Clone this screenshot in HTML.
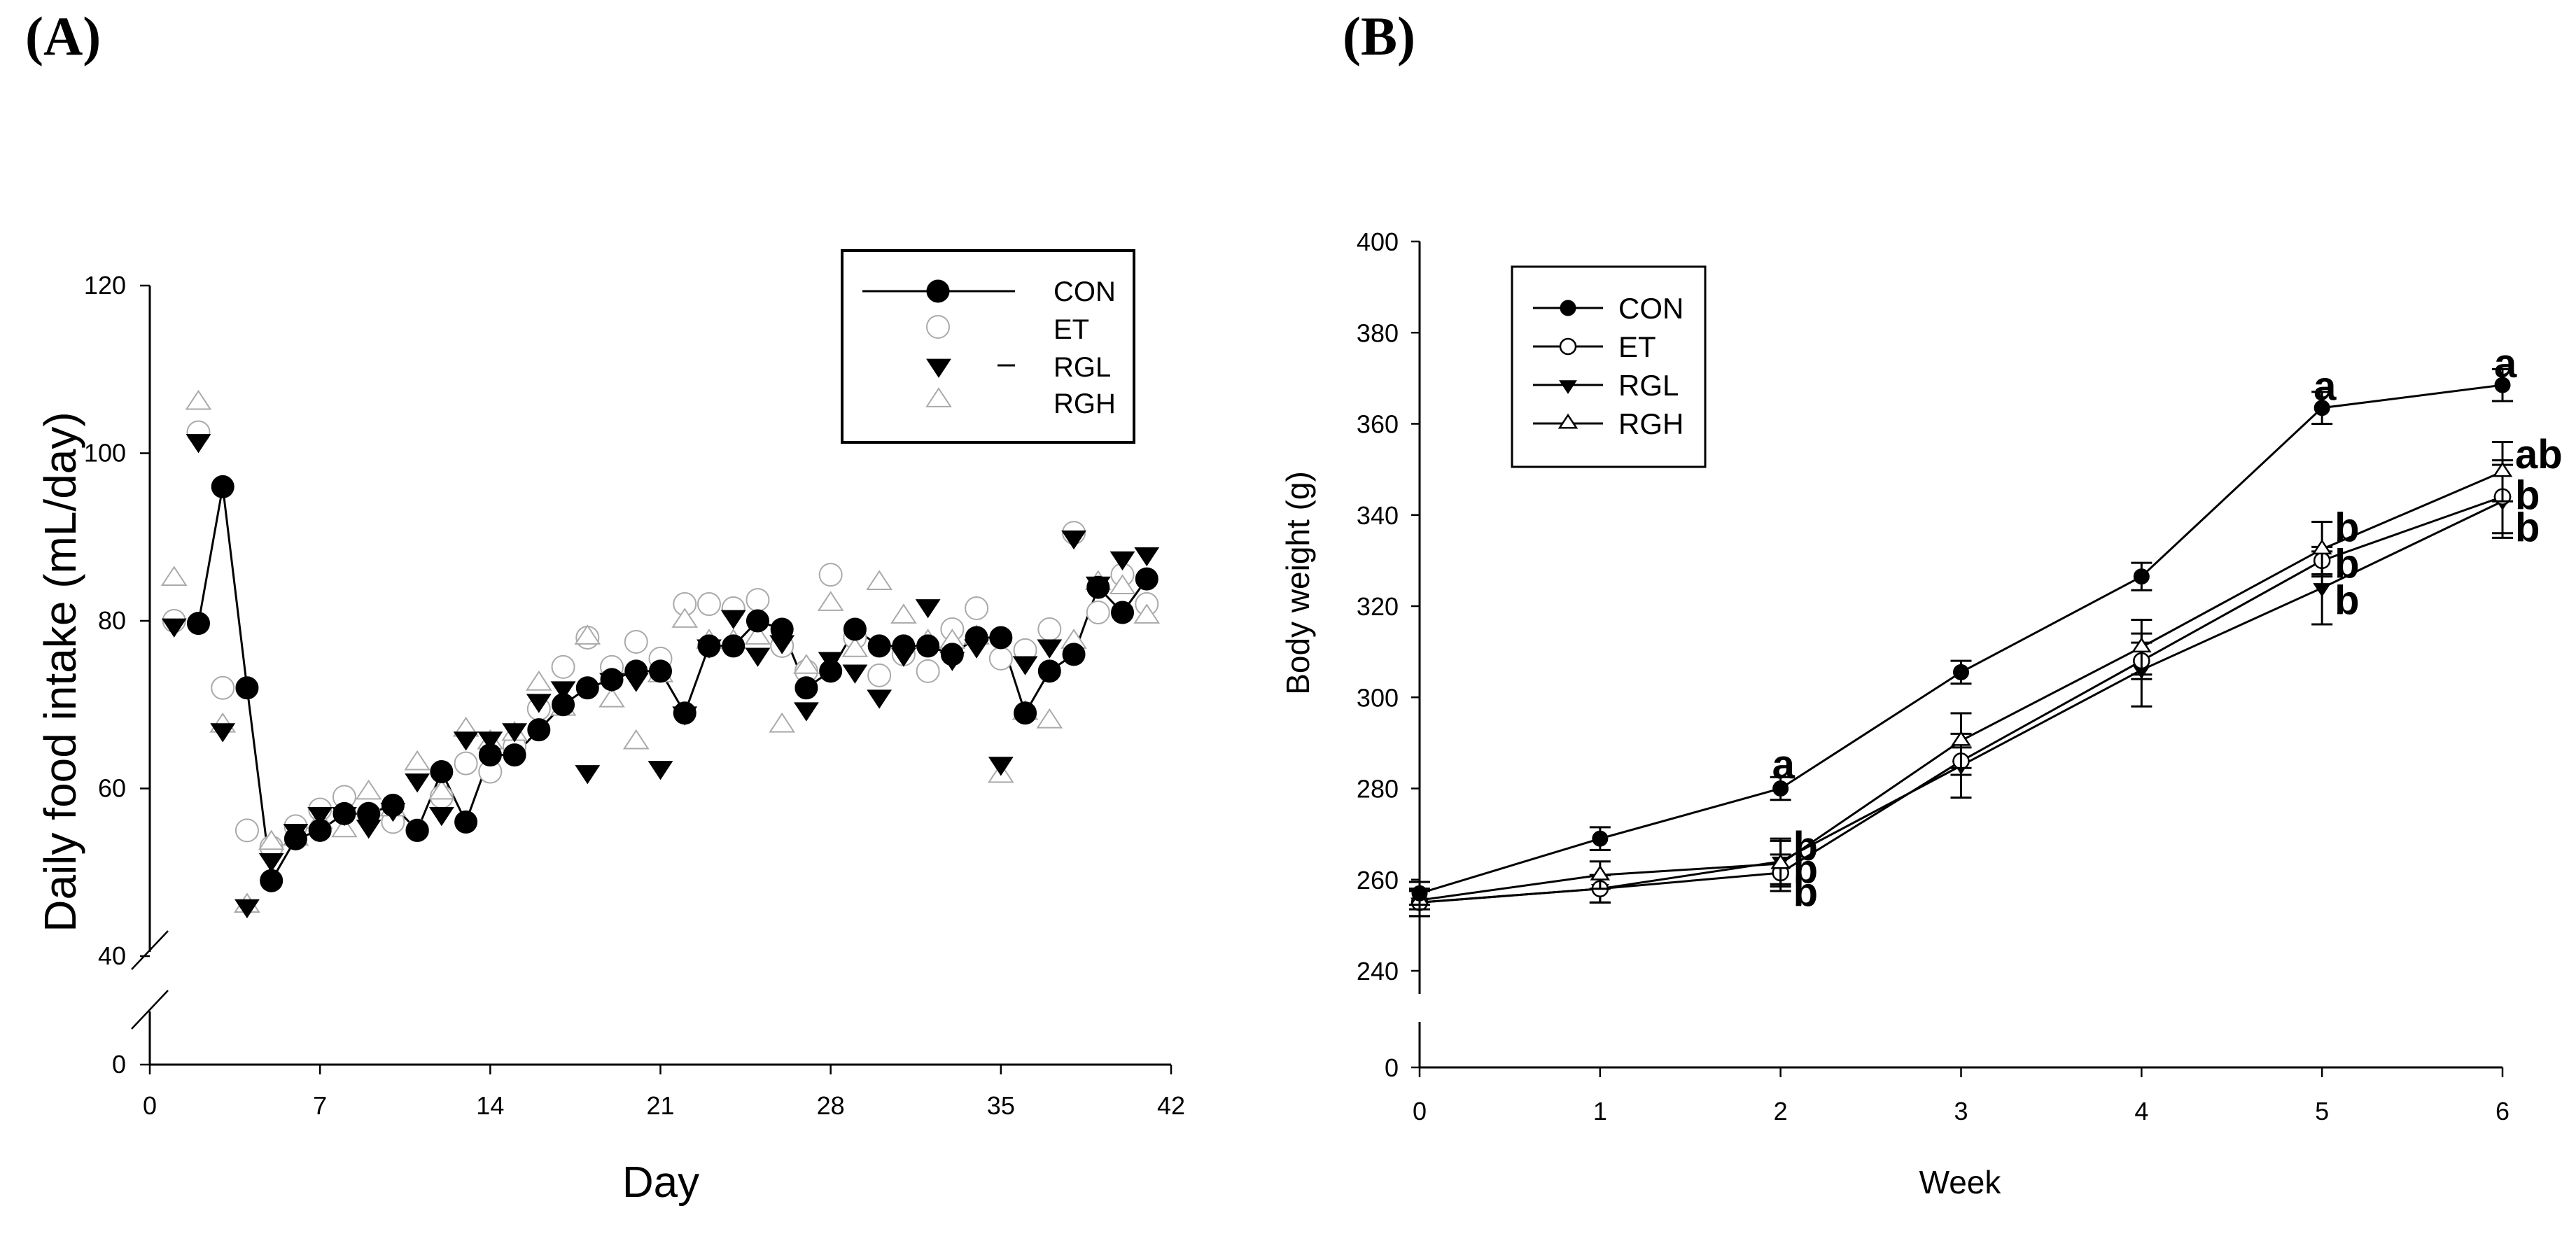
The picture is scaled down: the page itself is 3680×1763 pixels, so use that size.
<!DOCTYPE html>
<html><head><meta charset="utf-8"><style>
html,body{margin:0;padding:0;background:#fff;}
svg{display:block;}
text{font-family:"Liberation Sans Narrow","Liberation Sans",sans-serif;}
.tk{font-size:36px;}
</style></head>
<body>
<svg id="fig" width="3680" height="1763" viewBox="0 0 3680 1763" xmlns="http://www.w3.org/2000/svg">
<text x="36" y="78" font-family="Liberation Serif" font-weight="bold" font-size="78" style="font-family:'Liberation Serif',serif">(A)</text>
<text x="1918" y="78" font-weight="bold" font-size="78" style="font-family:'Liberation Serif',serif">(B)</text>
<g id="pa"></g>
<g id="pb"></g>
</svg>
<script>
// ---- Panel A data ----
const daysA = [1,2,3,4,5,6,7,8,9,10,11,12,13,14,15,16,17,18,19,20,21,22,23,24,25,26,27,28,29,30,31,32,33,34,35,36,37,38,39,40,41];
const conA = [null,79.7,96,72,49,54,55,57,57,58,55,62,56,64,64,67,70,72,73,74,74,69,77,77,80,79,72,74,79,77,77,77,76,78,78,69,74,76,84,81,85];
const etA = [80,102.5,72,55,53,55.5,57.5,59,57,56,55,59,63,62,65,69.5,74.5,78,74.5,77.5,75.5,82,82,81.5,82.5,77,74,85.5,78,73.5,76,74,79,81.5,75.5,76.5,79,90.5,81,85.5,82];
const rglA = [79.5,101.5,67,46,51.5,55,57,57,55.5,57.5,61,57,66,66,67,70.5,72,62,73,73,62.5,69,77,80.5,76,77.5,69.5,75.5,74,71,76,81.8,75.5,77,63,75,77,90,84.5,87.5,88];
const rghA = [85,106,67.5,46,53.5,54,56,55,59.5,57.5,63,59.5,67,65.5,66.5,72.5,69.5,78,70.5,65.5,73.5,80,77.5,77.5,78,67.5,74.5,82,76.5,84.5,80.5,77.5,77.5,78,61.5,69,68,77.5,84.5,84,80.5];
const xTicksA = [0,7,14,21,28,35,42];
const yTicksA = [40,60,80,100,120];
// ---- Panel B data ----
const weeksB = [0,1,2,3,4,5,6];
const conB = [257,269,280,305.5,326.5,363.5,368.5];
const conErr = [2.5,2.5,2.5,2.5,3,3.5,3.5];
const etB = [255,258,261.5,286,308,330,344];
const etErr = [3,3,4,3,4,3,8];
const rglB = [255,258,264,285,306,324,343];
const rglErr = [3,3,5,7,8,8,8];
const rghB = [255.5,261,263.5,290.5,311,332.5,349.5];
const rghErr = [2,3,5,6,6,6,6.5];
const yTicksB = [240,260,280,300,320,340,360,380,400];
const letterText = ['a','b','b','b','a','b','b','b','a','ab','b','b'];
const letterWeek = [2,2,2,2,5,5,5,5,6,6,6,6];
const letterVal = [285,267,262,257,368,337,329,321,373,353,344,337];

const NS='http://www.w3.org/2000/svg';
function mk(parent,tag,attrs,txt){const e=document.createElementNS(NS,tag);for(const k in attrs)e.setAttribute(k,attrs[k]);if(txt!==undefined)e.textContent=txt;parent.appendChild(e);return e;}

// ---------- Panel A ----------
const pa=document.getElementById('pa');
const xA=d=>214+(d/42)*(1673-214);
const yA=v=>v===0?1521:1366-(v-40)*(1366-408)/80;
let e;
e=mk(pa,'line',{x1:214,y1:408,x2:214,y2:1360,stroke:'#000','stroke-width':3});

e=mk(pa,'line',{x1:214,y1:1445,x2:214,y2:1521,stroke:'#000','stroke-width':3});

mk(pa,'line',{x1:188,y1:1385,x2:240,y2:1330,stroke:'#000','stroke-width':2.5});
mk(pa,'line',{x1:188,y1:1470,x2:240,y2:1415,stroke:'#000','stroke-width':2.5});
e=mk(pa,'line',{x1:214,y1:1521,x2:1673,y2:1521,stroke:'#000','stroke-width':3});

yTicksA.forEach(v=>{mk(pa,'line',{x1:200,y1:yA(v),x2:214,y2:yA(v),stroke:'#000','stroke-width':2.5});
 e=mk(pa,'text',{x:180,y:yA(v)+12,'text-anchor':'end',class:'tk'},v);});
mk(pa,'line',{x1:200,y1:1521,x2:214,y2:1521,stroke:'#000','stroke-width':2.5});
e=mk(pa,'text',{x:180,y:1533,'text-anchor':'end',class:'tk'},0);
xTicksA.forEach(d=>{mk(pa,'line',{x1:xA(d),y1:1521,x2:xA(d),y2:1535,stroke:'#000','stroke-width':2.5});
 e=mk(pa,'text',{x:xA(d),y:1592,'text-anchor':'middle',class:'tk'},d);});
e=mk(pa,'text',{x:0,y:0,'text-anchor':'middle','font-size':64,transform:'translate(108,960) rotate(-90)'},'Daily food intake (mL/day)');

e=mk(pa,'text',{x:944,y:1710,'text-anchor':'middle','font-size':62},'Day');

function circ(g,x,y,r,fill,stroke,sw){return mk(g,'circle',{cx:x,cy:y,r:r,fill:fill,stroke:stroke,'stroke-width':sw});}
function tri(g,x,y,s,down,fill,stroke,sw){const h=s*0.95;let p=down?`${x-s},${y-h*0.55} ${x+s},${y-h*0.55} ${x},${y+h*1.05}`:`${x-s},${y+h*0.55} ${x+s},${y+h*0.55} ${x},${y-h*1.05}`;return mk(g,'polygon',{points:p,fill:fill,stroke:stroke,'stroke-width':sw});}
// CON line
let pts=[];daysA.forEach((d,i)=>{if(conA[i]!==null)pts.push(xA(d)+','+yA(conA[i]));});
e=mk(pa,'polyline',{points:pts.join(' '),fill:'none',stroke:'#000','stroke-width':3});

daysA.forEach((d,i)=>{e=circ(pa,xA(d),yA(etA[i]),16,'#fff','#aaa',2);});
daysA.forEach((d,i)=>{e=tri(pa,xA(d),yA(rghA[i]),17,false,'#fff','#aaa',2);});
daysA.forEach((d,i)=>{e=tri(pa,xA(d),yA(rglA[i]),17,true,'#000','#000',1);});
daysA.forEach((d,i)=>{if(conA[i]===null)return;e=circ(pa,xA(d),yA(conA[i]),16,'#000','#000',1);});
// legend A
e=mk(pa,'rect',{x:1203,y:358,width:417,height:274,fill:'#fff',stroke:'#000','stroke-width':4});

mk(pa,'line',{x1:1232,y1:416,x2:1450,y2:416,stroke:'#000','stroke-width':3});
circ(pa,1340,416,16,'#000','#000',1);
circ(pa,1340,467,16,'#fff','#aaa',2);
tri(pa,1341,522,17,true,'#000','#000',1);
tri(pa,1341,572,17,false,'#fff','#aaa',2);
mk(pa,'line',{x1:1425,y1:522,x2:1450,y2:522,stroke:'#000','stroke-width':3});
[['CON',430],['ET',484],['RGL',538],['RGH',590]].forEach(([t,y])=>{e=mk(pa,'text',{x:1505,y:y,'font-size':40},t);});

// ---------- Panel B ----------
const pb=document.getElementById('pb');
const xB=w=>2028+w*(3575-2028)/6;
const yB=v=>v===0?1525:1387-(v-240)*(1387-345)/160;
e=mk(pb,'line',{x1:2028,y1:345,x2:2028,y2:1420,stroke:'#000','stroke-width':3});
e=mk(pb,'line',{x1:2028,y1:1460,x2:2028,y2:1525,stroke:'#000','stroke-width':3});
e=mk(pb,'line',{x1:2028,y1:1525,x2:3575,y2:1525,stroke:'#000','stroke-width':3});
yTicksB.concat([0]).forEach(v=>{mk(pb,'line',{x1:2016,y1:yB(v),x2:2028,y2:yB(v),stroke:'#000','stroke-width':2.5});
 e=mk(pb,'text',{x:1998,y:yB(v)+13,'text-anchor':'end',class:'tk'},v);});
weeksB.forEach(w=>{mk(pb,'line',{x1:xB(w),y1:1525,x2:xB(w),y2:1539,stroke:'#000','stroke-width':2.5});
 e=mk(pb,'text',{x:xB(w),y:1600,'text-anchor':'middle',class:'tk'},w);});
e=mk(pb,'text',{x:0,y:0,'text-anchor':'middle','font-size':46,transform:'translate(1870,833) rotate(-90)'},'Body weight (g)');
e=mk(pb,'text',{x:2800,y:1705,'text-anchor':'middle','font-size':46},'Week');
function series(vals,errs,name,draw){
 e=mk(pb,'polyline',{points:weeksB.map((w,i)=>xB(w)+','+yB(vals[i])).join(' '),fill:'none',stroke:'#000','stroke-width':3});
 
 weeksB.forEach((w,i)=>{const x=xB(w),t=yB(vals[i]+errs[i]),b=yB(vals[i]-errs[i]);
  e=mk(pb,'path',{d:`M${x},${t}V${b}M${x-15},${t}H${x+15}M${x-15},${b}H${x+15}`,stroke:'#000','stroke-width':3,fill:'none'});
  
  e=draw(x,yB(vals[i]));});
}
series(rglB,rglErr,'rgl',(x,y)=>tri(pb,x,y,12,true,'#000','#000',1));
series(etB,etErr,'et',(x,y)=>circ(pb,x,y,11,'#fff','#000',2.5));
series(rghB,rghErr,'rgh',(x,y)=>tri(pb,x,y,12,false,'#fff','#000',2.5));
series(conB,conErr,'con',(x,y)=>circ(pb,x,y,11,'#000','#000',1));
letterText.forEach((t,i)=>{e=mk(pb,'text',{x:xB(letterWeek[i])+(t==='a'?-12:18),y:yB(letterVal[i])+18,'font-size':58,'font-weight':'bold'},t);
 });
// legend B
e=mk(pb,'rect',{x:2160,y:381,width:276,height:286,fill:'#fff',stroke:'#000','stroke-width':3});
const ly=[440,495,550,605];
ly.forEach(y=>mk(pb,'line',{x1:2190,y1:y,x2:2290,y2:y,stroke:'#000','stroke-width':3}));
circ(pb,2240,440,11,'#000','#000',1);circ(pb,2240,495,11,'#fff','#000',2.5);tri(pb,2240,550,12,true,'#000','#000',1);tri(pb,2240,605,12,false,'#fff','#000',2.5);
[['CON',440],['ET',495],['RGL',550],['RGH',605]].forEach(([t,y])=>{e=mk(pb,'text',{x:2312,y:y+15,'font-size':42},t);});
</script>
</body></html>
